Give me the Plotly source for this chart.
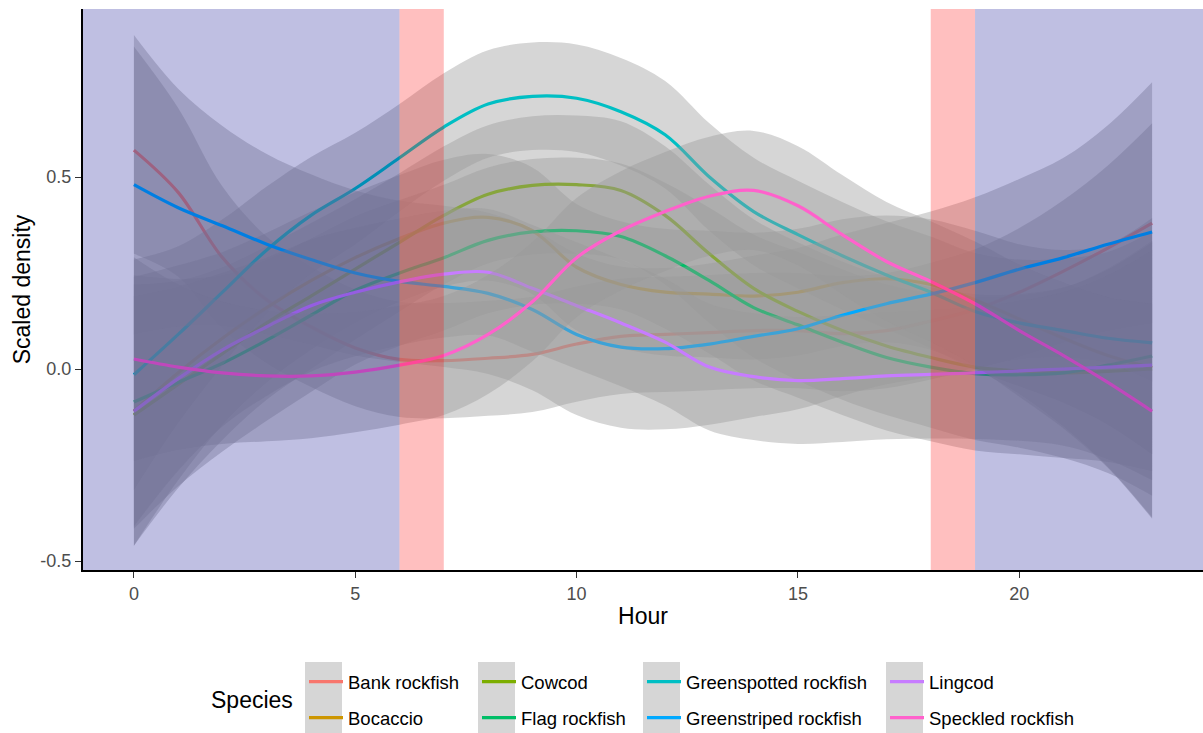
import plotly.graph_objects as go

hours = list(range(24))
species = ["Bank rockfish", "Bocaccio", "Cowcod", "Flag rockfish",
           "Greenspotted rockfish", "Greenstriped rockfish", "Lingcod", "Speckled rockfish"]
colors = ["#F8766D", "#CD9600", "#7CAE00", "#00BE67", "#00BFC4", "#00A9FF", "#C77CFF", "#FF61CC"]

# fitted smooth (scaled density) per hour
bank = [0.57, 0.46, 0.29, 0.18, 0.11, 0.055, 0.025, 0.022, 0.028, 0.038, 0.065, 0.085,
        0.09, 0.095, 0.1, 0.1, 0.092, 0.1, 0.125, 0.155, 0.2, 0.255, 0.315, 0.38]
bocaccio = [-0.11, -0.01, 0.08, 0.16, 0.23, 0.29, 0.34, 0.38, 0.395, 0.36, 0.265, 0.22,
            0.2, 0.195, 0.19, 0.2, 0.225, 0.235, 0.22, 0.18, 0.13, 0.08, 0.035, 0.003]
cowcod = [-0.12, -0.04, 0.04, 0.12, 0.19, 0.26, 0.33, 0.4, 0.455, 0.478, 0.48, 0.465,
          0.4, 0.3, 0.21, 0.15, 0.1, 0.06, 0.03, 0.005, -0.005, -0.01, -0.006, 0.0]
flag = [-0.086, -0.035, 0.015, 0.075, 0.14, 0.205, 0.25, 0.29, 0.335, 0.357, 0.36, 0.345,
        0.295, 0.23, 0.16, 0.115, 0.07, 0.03, 0.005, -0.012, -0.015, -0.01, 0.01, 0.034]
greenspotted = [-0.015, 0.09, 0.2, 0.31, 0.4, 0.47, 0.55, 0.63, 0.69, 0.71, 0.705, 0.67,
                0.61, 0.5, 0.41, 0.35, 0.295, 0.245, 0.2, 0.15, 0.12, 0.1, 0.08, 0.068]
greenstriped = [0.48, 0.42, 0.373, 0.325, 0.285, 0.25, 0.228, 0.215, 0.197, 0.155, 0.09, 0.057,
                0.053, 0.065, 0.085, 0.105, 0.14, 0.17, 0.195, 0.225, 0.26, 0.29, 0.325, 0.357]
lingcod = [-0.11, -0.025, 0.05, 0.11, 0.165, 0.2, 0.227, 0.247, 0.252, 0.21, 0.165, 0.12,
           0.07, 0.005, -0.02, -0.03, -0.025, -0.018, -0.014, -0.01, -0.005, 0.0, 0.005, 0.01]
speckled = [0.026, 0.005, -0.01, -0.018, -0.018, -0.008, 0.01, 0.035, 0.09, 0.175, 0.29, 0.36,
            0.41, 0.45, 0.465, 0.425, 0.35, 0.28, 0.228, 0.17, 0.1, 0.035, -0.035, -0.11]

# half-width of the confidence ribbon per hour
bank_se = [0.27, 0.22, 0.185, 0.165, 0.157, 0.152, 0.15, 0.15, 0.15, 0.15, 0.15, 0.15,
           0.15, 0.15, 0.15, 0.15, 0.15, 0.15, 0.152, 0.157, 0.167, 0.185, 0.215, 0.26]
bocaccio_se = [0.35, 0.28, 0.225, 0.195, 0.18, 0.17, 0.165, 0.165, 0.165, 0.165, 0.165, 0.165,
               0.165, 0.165, 0.165, 0.165, 0.165, 0.165, 0.17, 0.18, 0.195, 0.23, 0.29, 0.39]
cowcod_se = [0.34, 0.27, 0.225, 0.2, 0.19, 0.183, 0.18, 0.18, 0.18, 0.18, 0.18, 0.18,
             0.18, 0.18, 0.18, 0.18, 0.18, 0.18, 0.183, 0.19, 0.2, 0.222, 0.265, 0.33]
flag_se = [0.33, 0.27, 0.23, 0.21, 0.2, 0.193, 0.19, 0.19, 0.19, 0.19, 0.19, 0.19,
           0.19, 0.19, 0.19, 0.19, 0.19, 0.19, 0.193, 0.2, 0.207, 0.222, 0.252, 0.3]
greenspotted_se = [0.3, 0.23, 0.19, 0.165, 0.152, 0.145, 0.14, 0.14, 0.14, 0.14, 0.14, 0.14,
                   0.14, 0.14, 0.14, 0.14, 0.14, 0.14, 0.145, 0.152, 0.165, 0.188, 0.225, 0.29]
greenstriped_se = [0.39, 0.31, 0.26, 0.235, 0.222, 0.215, 0.21, 0.21, 0.21, 0.21, 0.21, 0.21,
                   0.21, 0.21, 0.21, 0.21, 0.21, 0.21, 0.215, 0.222, 0.235, 0.26, 0.31, 0.39]
lingcod_se = [0.3, 0.24, 0.2, 0.18, 0.172, 0.167, 0.165, 0.165, 0.165, 0.165, 0.165, 0.165,
              0.165, 0.165, 0.165, 0.165, 0.165, 0.165, 0.167, 0.172, 0.182, 0.2, 0.24, 0.3]
speckled_se = [0.265, 0.215, 0.185, 0.17, 0.162, 0.157, 0.155, 0.155, 0.155, 0.155, 0.155, 0.155,
               0.155, 0.155, 0.155, 0.155, 0.155, 0.155, 0.157, 0.162, 0.172, 0.19, 0.222, 0.28]

fits = [bank, bocaccio, cowcod, flag, greenspotted, greenstriped, lingcod, speckled]
ses = [bank_se, bocaccio_se, cowcod_se, flag_se, greenspotted_se, greenstriped_se, lingcod_se, speckled_se]

# light periods (hours)
night_periods = [(-1.15, 6), (19, 24.15)]
twilight_periods = [(6, 7), (18, 19)]
x_range = [-1.15, 24.15]
y_range = [-0.5234, 0.9375]
y_ticks = [-0.5, 0.0, 0.5]
x_ticks = [0, 5, 10, 15, 20]

FONT = "Liberation Sans, Arial, sans-serif"
fig = go.Figure()

legend_of = ["legend", "legend", "legend2", "legend2", "legend3", "legend3", "legend4", "legend4"]
for i, (name, col, fit, se) in enumerate(zip(species, colors, fits, ses)):
    lo = [f - s for f, s in zip(fit, se)]
    hi = [f + s for f, s in zip(fit, se)]
    fig.add_trace(go.Scatter(x=hours, y=lo, mode="lines", line=dict(width=0, shape="spline"),
                             showlegend=False, hoverinfo="skip", legendgroup=name))
    fig.add_trace(go.Scatter(x=hours, y=hi, mode="lines", line=dict(width=0, shape="spline"),
                             fill="tonexty", fillcolor="rgba(153,153,153,0.4)",
                             showlegend=False, hoverinfo="skip", legendgroup=name))
    fig.add_trace(go.Scatter(x=hours, y=fit, mode="lines", name=name,
                             line=dict(color=col, width=3.2, shape="spline"),
                             legendgroup=name, legend=legend_of[i]))

shapes = []
for x0, x1 in night_periods:
    shapes.append(dict(type="rect", xref="x", yref="paper", x0=x0, x1=x1, y0=0, y1=1,
                       fillcolor="rgba(0,0,139,0.25)", line=dict(width=0), layer="above"))
for x0, x1 in twilight_periods:
    shapes.append(dict(type="rect", xref="x", yref="paper", x0=x0, x1=x1, y0=0, y1=1,
                       fillcolor="rgba(255,0,0,0.25)", line=dict(width=0), layer="above"))

# legend key backgrounds (pixel layout -> paper)
L, R, T, B = 83, 1203, 9, 570
W, H = R - L, B - T
def px(x): return (x - L) / W
def py(y): return (B - y) / H
key_left = [305, 478, 643, 886]
for kx in key_left:
    shapes.append(dict(type="rect", xref="paper", yref="paper", x0=px(kx), x1=px(kx + 37),
                       y0=py(734), y1=py(662), fillcolor="#D6D6D6", line=dict(width=0), layer="below"))

legend_common = dict(orientation="v", xanchor="left", yanchor="top", bgcolor="rgba(0,0,0,0)",
                     font=dict(family=FONT, size=18.5, color="black"), tracegroupgap=9,
                     itemwidth=34, itemclick=False, itemdoubleclick=False)
layout_legends = {}
for j, kx in enumerate(key_left):
    key = "legend" if j == 0 else f"legend{j+1}"
    layout_legends[key] = dict(x=px(kx - 1), y=py(663), **legend_common)

fig.update_layout(
    width=1203, height=733,
    margin=dict(l=L, r=0, t=T, b=733 - B, autoexpand=False),
    paper_bgcolor="white", plot_bgcolor="white",
    font=dict(family=FONT),
    shapes=shapes,
    showlegend=True,
    annotations=[dict(text="Species", xref="paper", yref="paper", x=px(209), y=py(700),
                      xanchor="left", yanchor="middle", showarrow=False,
                      font=dict(family=FONT, size=23, color="black"))],
    xaxis=dict(range=x_range, tickvals=x_ticks, ticks="outside", ticklen=6, tickwidth=1.2,
               tickcolor="#333333", showline=True, linecolor="black", linewidth=2,
               showgrid=False, zeroline=False,
               tickfont=dict(family=FONT, size=18, color="#4D4D4D"),
               title=dict(text="Hour", font=dict(family=FONT, size=23, color="black"), standoff=5)),
    yaxis=dict(range=y_range, tickvals=y_ticks, ticktext=["-0.5", "0.0", "0.5"], ticks="outside",
               ticklen=6, tickwidth=1.2, tickcolor="#333333", showline=True, linecolor="black",
               linewidth=2, showgrid=False, zeroline=False,
               tickfont=dict(family=FONT, size=18, color="#4D4D4D"),
               title=dict(text="Scaled density", font=dict(family=FONT, size=23, color="black"),
                          standoff=3)),
    **layout_legends,
)

fig.write_html("out.html")
